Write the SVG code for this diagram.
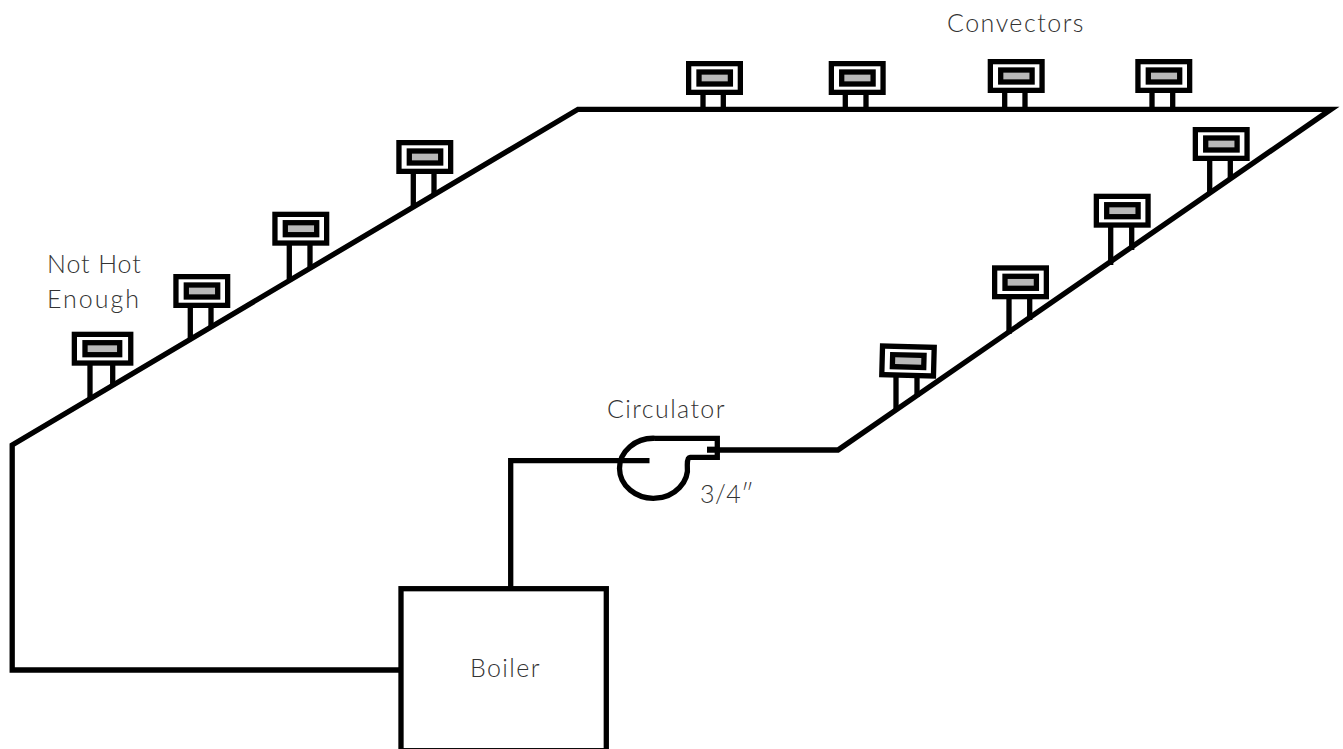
<svg xmlns="http://www.w3.org/2000/svg" width="1343" height="749" viewBox="0 0 1343 749">
<style>
.p{fill:none;stroke:#000;stroke-width:5.300}
.l{font-family:Lato,"Open Sans",sans-serif;font-weight:300;font-size:25px;fill:#333;letter-spacing:1.400px}
.o{fill:#fff;stroke:#000;stroke-width:5.300}
.g{fill:#b8b8b8;stroke:#000;stroke-width:5.300}
</style>
<defs>
<g id="conv">
<rect class="o" x="2.650" y="2.650" width="51.700" height="28.700"/>
<rect class="g" x="13" y="11" width="31.400" height="12"/>
</g>
<g id="convw">
<rect class="o" x="2.650" y="2.650" width="56.400" height="28.700"/>
<rect class="g" x="13.300" y="11" width="34.700" height="12"/>
</g>
</defs>
<rect width="1343" height="749" fill="#fff"/>
<g id="connectors">
<path class="p" d="M401 670H12.200V445L578 109.300H1331L838 450H707"/>
<path class="p" d="M510.700 588V460.700H649.500"/>
<path class="p" d="M90 364V399M112.700 364V386M190.300 306V340M211 306V328M289.300 244V279M310 244V267M413.300 172V206M434 172V194M703 93V110M723.300 93V110M845.300 93V110M866 93V110M1004.700 91V110M1025 91V110M1152 91V110M1172.700 91V110M1209.700 159V194M1230.300 159V180M1110.700 226V265M1131.700 226V250M1009 298V334M1029.700 298V320M896 377V411M917 377V397"/>
</g>
<g id="boiler"><rect class="o" x="401" y="588.700" width="205.300" height="162"/><text class="l" x="470" y="677">Boiler</text></g>
<g id="circulator"><path class="p" d="M655 438.300H717.300V457.300H690Q687.300 457.300 687.300 465A34 30 0 1 1 655 438.300"/><path class="p" d="M707 449.300H717"/></g>
<g id="c1"><use href="#convw" x="71.700" y="331.700"/></g>
<g id="c2"><use href="#conv" x="173.300" y="274"/></g>
<g id="c3"><use href="#conv" x="272.300" y="211.700"/></g>
<g id="c4"><use href="#conv" x="396.300" y="140"/></g>
<g id="c5"><use href="#conv" x="686" y="61"/></g>
<g id="c6"><use href="#conv" x="828.700" y="61"/></g>
<g id="c7"><use href="#conv" x="987.700" y="59"/></g>
<g id="c8"><use href="#conv" x="1135.300" y="59"/></g>
<g id="c9"><use href="#conv" x="1192.700" y="127"/></g>
<g id="c10"><use href="#conv" x="1093.700" y="193.700"/></g>
<g id="c11"><use href="#conv" x="992" y="265.300"/></g>
<g id="c12"><use href="#conv" x="879.500" y="344" transform="rotate(1.500 908 361)"/></g>
<g id="labels">
<text class="l" x="947" y="32" style="letter-spacing:1.500px">Convectors</text>
<text class="l" x="47" y="273" style="letter-spacing:.9px">Not Hot</text>
<text class="l" x="47" y="308" style="letter-spacing:2px">Enough</text>
<text class="l" x="607" y="418">Circulator</text>
<text class="l" x="700" y="503" style="letter-spacing:.4px">3/4″</text>
</g>
</svg>
